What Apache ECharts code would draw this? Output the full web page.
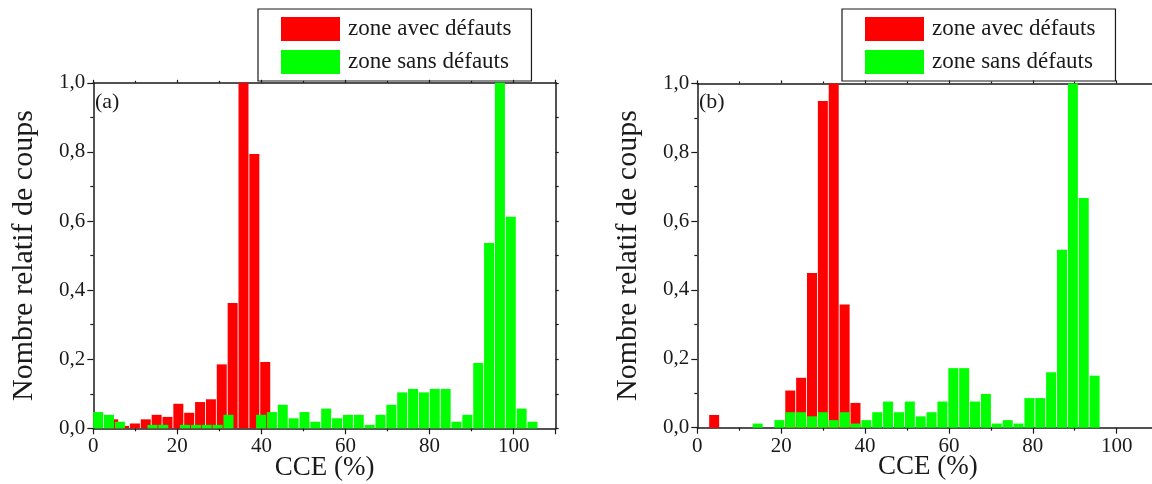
<!DOCTYPE html>
<html>
<head>
<meta charset="utf-8">
<script src="https://cdn.jsdelivr.net/npm/echarts@6/dist/echarts.min.js"></script>
<style>
html,body{margin:0;padding:0;background:#fff;}
#chart{width:1152px;height:484px;}
</style>
</head>
<body>
<div id="chart"></div>
<script>
// Panel (a): bin centres (CCE %) and relative counts
const aRedX = [4.73, 7.32, 9.90, 12.48, 15.07, 17.65, 20.23, 22.81, 25.40, 27.98, 30.56, 33.15, 35.73, 38.31, 40.90];
const aRedY = [0.026, 0.007, 0.014, 0.026, 0.039, 0.033, 0.071, 0.045, 0.076, 0.084, 0.185, 0.363, 1.0, 0.794, 0.192];
const aGreenX = [1.16, 3.74, 6.33, 8.91, 11.49, 14.08, 16.66, 19.24, 21.82, 24.41, 26.99, 29.57, 32.16, 34.74, 37.32,
  39.91, 42.49, 45.07, 47.65, 50.24, 52.82, 55.40, 57.99, 60.57, 63.15, 65.74, 68.32, 70.90, 73.48, 76.07,
  78.65, 81.23, 83.82, 86.40, 88.98, 91.57, 94.15, 96.73, 99.31, 101.90, 104.48];
const aGreenY = [0.047, 0.039, 0.019, 0, 0, 0.010, 0.010, 0, 0.010, 0.010, 0.010, 0.010, 0.039, 0, 0,
  0.039, 0.047, 0.068, 0.029, 0.047, 0.019, 0.057, 0.029, 0.039, 0.039, 0.010, 0.039, 0.068, 0.104, 0.114,
  0.104, 0.114, 0.114, 0.019, 0.039, 0.189, 0.536, 1.0, 0.612, 0.057, 0.019];

// Panel (b): bin centres (CCE %) and relative counts
const bX = [4.02, 6.61, 9.20, 11.80, 14.39, 16.98, 19.57, 22.17, 24.76, 27.35, 29.94, 32.53, 35.13, 37.72,
  40.31, 42.90, 45.49, 48.09, 50.68, 53.27, 55.86, 58.45, 61.05, 63.64, 66.23, 68.82, 71.41, 74.01,
  76.60, 79.19, 81.78, 84.37, 86.97, 89.56, 92.15, 94.74];
const bRedY = [0.037, 0, 0, 0, 0, 0, 0, 0.108, 0.145, 0.449, 0.949, 1.0, 0.358, 0.072,
  0, 0, 0, 0, 0, 0, 0, 0, 0, 0, 0, 0, 0, 0, 0, 0, 0, 0, 0, 0, 0, 0];
const bGreenY = [0, 0, 0, 0, 0.012, 0, 0.022, 0.045, 0.045, 0.033, 0.045, 0.022, 0.045, 0.012,
  0.022, 0.045, 0.076, 0.045, 0.076, 0.033, 0.045, 0.076, 0.173, 0.173, 0.076, 0.098, 0.012, 0.022,
  0.012, 0.086, 0.086, 0.161, 0.517, 1.0, 0.667, 0.151];

const seriesNames = ['zone avec défauts', 'zone sans défauts'];
const panelLabels = ['(a)', '(b)'];
const xTitle = 'CCE (%)';
const yTitle = 'Nombre relatif de coups';

const FONT = 'Liberation Serif';
const INK = '#1a1a1a';

function pairs(xs, ys) {
  const out = [];
  for (let i = 0; i < xs.length; i++) if (ys[i] > 0) out.push([xs[i], ys[i]]);
  return out;
}

function xAxisDef(grid, pos, main) {
  return {
    gridIndex: grid, type: 'value', position: pos, min: 0, max: 110, interval: 20,
    name: main ? xTitle : '', nameLocation: 'middle', nameGap: 26, nameMoveOverlap: false,
    nameTextStyle: {fontFamily: FONT, fontSize: 27, color: INK},
    axisLine: {show: true, onZero: false, lineStyle: {color: INK, width: 1.5}},
    axisTick: {show: true, inside: false, length: main ? 6 : 3, lineStyle: {color: INK, width: 1.2}},
    minorTick: {show: true, splitNumber: 2, length: main ? 3 : 2, lineStyle: {color: INK, width: 1.2}},
    axisLabel: {show: main, margin: 8, fontFamily: FONT, fontSize: 21, color: INK,
      showMaxLabel: false, formatter: v => (v > 100 ? '' : String(v))},
    splitLine: {show: false}
  };
}
function yAxisDef(grid, pos, main) {
  return {
    gridIndex: grid, type: 'value', position: pos, min: 0, max: 1, interval: 0.2,
    name: main ? yTitle : '', nameLocation: 'middle', nameGap: 54, nameRotate: 90,
    nameTextStyle: {fontFamily: FONT, fontSize: 30, color: INK},
    axisLine: {show: true, onZero: false, lineStyle: {color: INK, width: 1.5}},
    axisTick: {show: true, inside: false, length: main ? 6 : 3, lineStyle: {color: INK, width: 1.2}},
    minorTick: {show: true, splitNumber: 2, length: 3, lineStyle: {color: INK, width: 1.2}},
    axisLabel: {show: main, margin: 8, fontFamily: FONT, fontSize: 21, color: INK,
      formatter: v => v.toFixed(1).replace('.', ',')},
    splitLine: {show: false}
  };
}
function legendDef(left) {
  return {
    left: left, top: 9, orient: 'vertical', selectedMode: false,
    data: seriesNames, icon: 'rect', itemWidth: 59, itemHeight: 24, itemGap: 9,
    padding: [8, 20, 7, 23], borderColor: INK, borderWidth: 1.2,
    textStyle: {fontFamily: FONT, fontSize: 23, color: INK, padding: [0, 0, 0, 3]}
  };
}
function barDef(name, color, xi, yi, data) {
  return {
    name: name, type: 'bar', xAxisIndex: xi, yAxisIndex: yi, data: data,
    barWidth: 10, barGap: '-100%', itemStyle: {color: color}, animation: false
  };
}

const chart = echarts.init(document.getElementById('chart'), null, {renderer: 'canvas'});
chart.setOption({
  backgroundColor: '#fff',
  animation: false,
  grid: [
    {left: 93.3, top: 82.8, width: 462.4, height: 345.5, outerBoundsMode: 'none', containLabel: false},
    {left: 697.3, top: 83.4, width: 461.3, height: 344.3, outerBoundsMode: 'none', containLabel: false}
  ],
  xAxis: [xAxisDef(0, 'bottom', true), xAxisDef(0, 'top', false), xAxisDef(1, 'bottom', true), xAxisDef(1, 'top', false)],
  yAxis: [yAxisDef(0, 'left', true), yAxisDef(0, 'right', false), yAxisDef(1, 'left', true), yAxisDef(1, 'right', false)],
  legend: [legendDef(258), legendDef(842)],
  series: [
    barDef(seriesNames[0], '#ff0000', 0, 0, pairs(aRedX, aRedY)),
    barDef(seriesNames[1], '#00ff00', 0, 0, pairs(aGreenX, aGreenY)),
    barDef(seriesNames[0], '#ff0000', 2, 2, pairs(bX, bRedY)),
    barDef(seriesNames[1], '#00ff00', 2, 2, pairs(bX, bGreenY))
  ],
  graphic: [
    {type: 'text', left: 95, top: 91, style: {text: panelLabels[0], fontFamily: FONT, fontSize: 22, fill: INK}},
    {type: 'text', left: 699, top: 91, style: {text: panelLabels[1], fontFamily: FONT, fontSize: 22, fill: INK}}
  ]
});
</script>
</body>
</html>
